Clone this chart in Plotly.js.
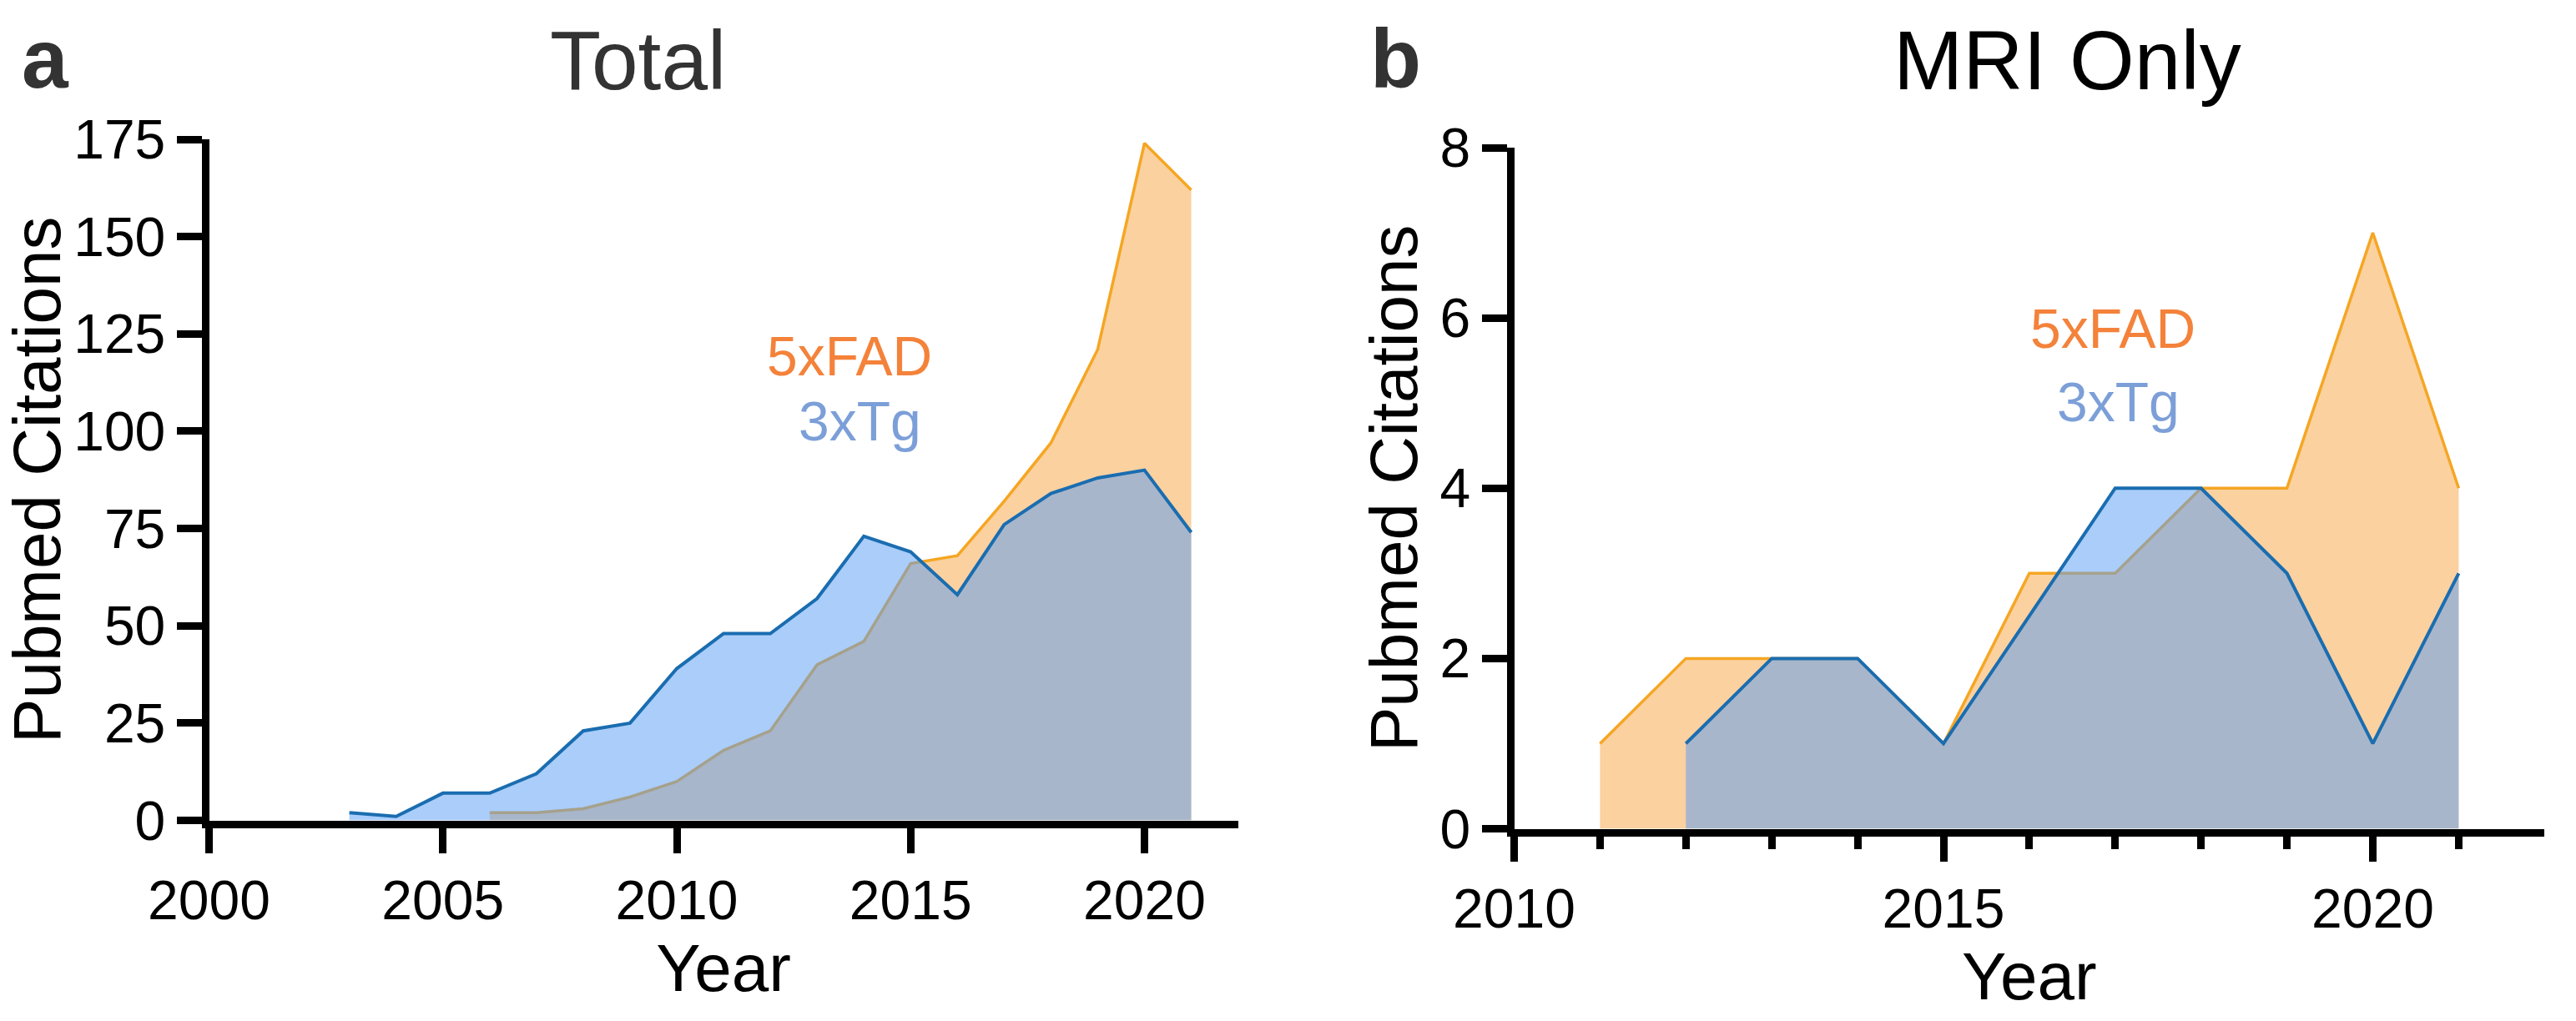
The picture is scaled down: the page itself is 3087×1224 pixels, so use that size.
<!DOCTYPE html>
<html><head><meta charset="utf-8">
<script src="https://cdn.plot.ly/plotly-3.0.1.min.js"></script>
<style>html,body{margin:0;padding:0;background:#fff}</style>
</head><body><div id="chart" style="width:3087px;height:1224px"></div>
<script>
// ---- data ----
const totalYears5xFAD = [2006,2007,2008,2009,2010,2011,2012,2013,2014,2015,2016,2017,2018,2019,2020,2021];
const total5xFAD      = [2,2,3,6,10,18,23,40,46,66,68,82,97,121,174,162];
const totalYears3xTg  = [2003,2004,2005,2006,2007,2008,2009,2010,2011,2012,2013,2014,2015,2016,2017,2018,2019,2020,2021];
const total3xTg       = [2,1,7,7,12,23,25,39,48,48,57,73,69,58,76,84,88,90,74];
const mriYears5xFAD   = [2011,2012,2013,2014,2015,2016,2017,2018,2019,2020,2021];
const mri5xFAD        = [1,2,2,2,1,3,3,4,4,7,4];
const mriYears3xTg    = [2012,2013,2014,2015,2016,2017,2018,2019,2020,2021];
const mri3xTg         = [1,2,2,1,2.5,4,4,3,1,3];
const totalYTicks = [0,25,50,75,100,125,150,175];
const mriYTicks   = [0,2,4,6,8];
const totalXTicks = [2000,2005,2010,2015,2020];
const mriXTicks   = [2010,2015,2020];
const mriXMinorTicks = [2011,2012,2013,2014,2016,2017,2018,2019,2021];
const panelTitles = ["Total","MRI Only"];
const panelLetters = ["a","b"];
const seriesNames = ["5xFAD","3xTg"];

// ---- styles ----
const W = 3087, H = 1224;
const FONT = "Liberation Sans, Arial, Helvetica, sans-serif";
const orangeLine = "#F5A623", orangeFill = "rgb(251,209,160)";
const blueLine = "#1A6DB0", blueFill = "rgba(85,155,245,0.5)";
const px = v => v / W, py = v => 1 - v / H;

const traces = [
  {x: totalYears5xFAD, y: total5xFAD, xaxis:'x', yaxis:'y', type:'scatter', mode:'lines', fill:'tozeroy',
   fillcolor: orangeFill, line:{color: orangeLine, width:3.5}, name: seriesNames[0], showlegend:false},
  {x: totalYears3xTg, y: total3xTg, xaxis:'x', yaxis:'y', type:'scatter', mode:'lines', fill:'tozeroy',
   fillcolor: blueFill, line:{color: blueLine, width:4}, name: seriesNames[1], showlegend:false},
  {x: mriYears5xFAD, y: mri5xFAD, xaxis:'x2', yaxis:'y2', type:'scatter', mode:'lines', fill:'tozeroy',
   fillcolor: orangeFill, line:{color: orangeLine, width:3.5}, name: seriesNames[0], showlegend:false},
  {x: mriYears3xTg, y: mri3xTg, xaxis:'x2', yaxis:'y2', type:'scatter', mode:'lines', fill:'tozeroy',
   fillcolor: blueFill, line:{color: blueLine, width:4}, name: seriesNames[1], showlegend:false}
];

const axisCommon = {
  showline:true, linecolor:'#000', linewidth:9, ticks:'outside', ticklen:30, tickwidth:9, tickcolor:'#000',
  showgrid:false, zeroline:false, tickfont:{family:FONT, size:66, color:'#000'}, fixedrange:true
};

const layout = {
  width: W, height: H, margin:{l:0,r:0,t:0,b:0}, paper_bgcolor:'#fff', plot_bgcolor:'rgba(0,0,0,0)',
  showlegend:false,
  xaxis: Object.assign({}, axisCommon, {domain:[px(250.5), px(1483.6)], range:[2000,2022], anchor:'y',
    tickvals: totalXTicks, title:{text:'Year', font:{family:FONT, size:80, color:'#000'}, standoff:8}}),
  yaxis: Object.assign({}, axisCommon, {domain:[py(983.5), py(167)], range:[0,175], anchor:'x',
    tickvals: totalYTicks, title:{text:'Pubmed Citations', font:{family:FONT, size:80, color:'#000'}, standoff:0}}),
  xaxis2: Object.assign({}, axisCommon, {domain:[px(1814.5), px(3049.3)], range:[2010,2022], anchor:'y2',
    tickvals: mriXTicks, minor:{tickvals: mriXMinorTicks, ticks:'outside', ticklen:15, tickwidth:9, tickcolor:'#000'},
    title:{text:'Year', font:{family:FONT, size:80, color:'#000'}, standoff:8}}),
  yaxis2: Object.assign({}, axisCommon, {domain:[py(993.5), py(177)], range:[0,8], anchor:'x2',
    tickvals: mriYTicks, title:{text:'Pubmed Citations', font:{family:FONT, size:80, color:'#000'}, standoff:4}}),
  annotations: [
    {text: panelLetters[0], xref:'paper', yref:'paper', x:px(24), y:py(108), xanchor:'left', yanchor:'bottom', yshift:-20,
     showarrow:false, font:{family:FONT, size:100, color:'#333', weight:'bold'}},
    {text: panelTitles[0], xref:'paper', yref:'paper', x:px(764), y:py(108), xanchor:'center', yanchor:'bottom', yshift:-22,
     showarrow:false, font:{family:FONT, size:100, color:'#333'}},
    {text: panelLetters[1], xref:'paper', yref:'paper', x:px(1640), y:py(108), xanchor:'left', yanchor:'bottom', yshift:-20,
     showarrow:false, font:{family:FONT, size:100, color:'#333', weight:'bold'}},
    {text: panelTitles[1], xref:'paper', yref:'paper', x:px(2477), y:py(108), xanchor:'center', yanchor:'bottom', yshift:-22,
     showarrow:false, font:{family:FONT, size:100, color:'#000'}},
    {text: seriesNames[0], xref:'paper', yref:'paper', x:px(1018), y:py(427), xanchor:'center', yanchor:'middle',
     showarrow:false, font:{family:FONT, size:66, color:'#F4823A'}},
    {text: seriesNames[1], xref:'paper', yref:'paper', x:px(1030), y:py(505), xanchor:'center', yanchor:'middle',
     showarrow:false, font:{family:FONT, size:66, color:'#7C9FD8'}},
    {text: seriesNames[0], xref:'paper', yref:'paper', x:px(2532), y:py(394), xanchor:'center', yanchor:'middle',
     showarrow:false, font:{family:FONT, size:66, color:'#F4823A'}},
    {text: seriesNames[1], xref:'paper', yref:'paper', x:px(2538), y:py(482), xanchor:'center', yanchor:'middle',
     showarrow:false, font:{family:FONT, size:66, color:'#7C9FD8'}}
  ]
};

Plotly.newPlot('chart', traces, layout, {staticPlot:true, displayModeBar:false});
</script></body></html>
